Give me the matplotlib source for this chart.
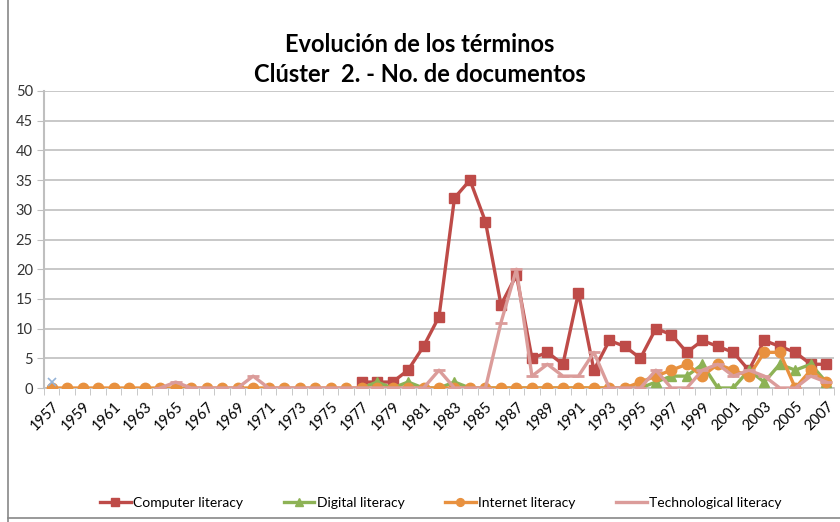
import numpy as np
import matplotlib.pyplot as plt
from matplotlib.lines import Line2D

plt.rcParams['font.family'] = ['Lato', 'DejaVu Sans']

nan = np.nan
years = list(range(1957, 2008))

computer = [nan] * 20 + [1, 1, 1, 3, 7, 12, 32, 35, 28, 14, 19, 5, 6, 4, 16, 3,
                         8, 7, 5, 10, 9, 6, 8, 7, 6, 3, 8, 7, 6, 4, 4]
digital = [nan] * 20 + [0, 1, 0, 1, 0, 0, 1, 0, 0, 0, 0, 0, 0, 0, 0, 0,
                        0, 0, 0, 1, 2, 2, 4, 0, 0, 3, 1, 4, 3, 4, 1]
internet = [0] * 38 + [1, 2, 3, 4, 2, 4, 3, 2, 6, 6, 0, 3, 1]
technological = [nan] * 7 + [0, 1, 0, 0, 0, 0, 2, 0, 0, 0, 0, 0, 0, 0, 0, 0,
                             0, 0, 3, 0, 0, 0, 11, 20, 2, 4, 2, 2, 6, 0, 0, 0,
                             3, 0, 0, 3, 4, 2, 3, 2, 0, 0, 2, 1]
other = [1] + [nan] * 50

x = np.arange(len(years))

fig = plt.figure(figsize=(8.4, 5.22), dpi=100)
ax = fig.add_axes([44 / 840, 1 - 388 / 522, 790 / 840, 297 / 522])

ax.plot(x, computer, color='#BE4B48', lw=2.4, marker='s', ms=7.5,
        label='Computer literacy', zorder=3)
ax.plot(x, digital, color='#8DB255', lw=2.4, marker='^', ms=7.5,
        label='Digital literacy', zorder=4)
ax.plot(x, internet, color='#E8913F', lw=2.4, marker='o', ms=7.5,
        label='Internet literacy', zorder=5)
ax.plot(x, technological, color='#DB9C9A', lw=2.4, marker='_', ms=8,
        mew=2, label='Technological literacy', zorder=6)
ax.plot(x, other, color='#95B3D7', lw=0, marker='x', ms=6, mew=1.2, zorder=7)

ax.set_xlim(-0.5, len(years) - 0.5)
ax.set_ylim(0, 50)
ax.set_yticks(range(0, 51, 5))
ax.yaxis.grid(True, color='#BFBFBF', lw=1.2)
ax.set_axisbelow(True)

ax.set_xticks(x[::2])
ax.set_xticklabels([str(y) for y in years[::2]], rotation=45,
                   ha='right', va='top', rotation_mode='anchor', fontsize=10.5)
ax.set_xticks(np.arange(-0.5, len(years), 1), minor=True)
ax.tick_params(axis='x', which='major', length=0, pad=8)
ax.tick_params(axis='x', which='minor', length=5, color='#BFBFBF', direction='out')
ax.tick_params(axis='y', length=5, color='#BFBFBF', labelsize=10.5,
               direction='out', pad=3)
for lab in ax.get_yticklabels():
    lab.set_color('#333333')

for s in ['top', 'right']:
    ax.spines[s].set_visible(False)
ax.spines['left'].set_color('#BFBFBF')
ax.spines['left'].set_linewidth(1.5)
ax.spines['bottom'].set_color('#BFBFBF')
ax.spines['bottom'].set_linewidth(1.2)

fig.text(0.5, 1 - 44 / 522, 'Evolución de los términos', ha='center',
         va='center', fontsize=17, fontweight='bold')
fig.text(0.5, 1 - 74 / 522, 'Clúster  2. - No. de documentos', ha='center',
         va='center', fontsize=17, fontweight='bold')

fig.legend(loc='center', bbox_to_anchor=(0.525, 1 - 503 / 522), ncol=4,
           frameon=False, fontsize=10, columnspacing=2.9, handlelength=2.2,
           handletextpad=0.2, markerscale=0.75)

# chart area border
fig.add_artist(Line2D([8 / 840, 8 / 840], [0, 1], color='#888888', lw=1.2))
fig.add_artist(Line2D([8 / 840, 1], [4 / 522, 4 / 522], color='#888888', lw=1.2))

fig.savefig('out.png', dpi=100)
